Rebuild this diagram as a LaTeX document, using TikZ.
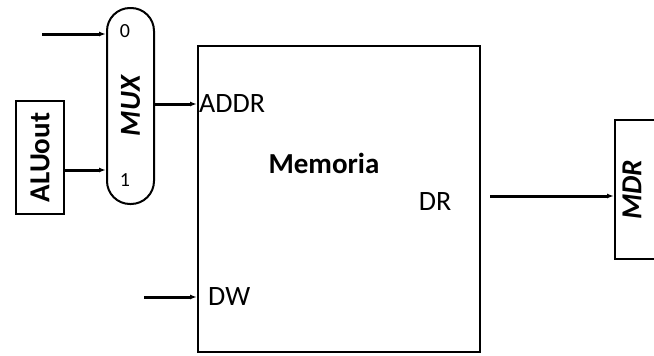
\documentclass[tikz,border=0pt]{standalone}
\usepackage{fontspec}
\setmainfont{Carlito}
\usetikzlibrary{arrows.meta,calc}
\tikzset{
  >={Latex[length=7pt,width=5pt]},
  blk/.style={draw,line width=2pt,inner sep=0pt},
  lbl/.style={font=\fontsize{28}{30}\selectfont,inner sep=0pt},
  bl/.style={font=\fontsize{29}{31}\selectfont\bfseries,inner sep=0pt},
  wire/.style={line width=3pt,->},
}

\begin{document}
\begin{tikzpicture}[x=1pt,y=-1pt]
\useasboundingbox (0,0) rectangle (654,356);
\clip (0,0) rectangle (654,356);
% blocchi
\node[blk,minimum width=282pt,minimum height=306pt] (mem) at (339,199){};
\node[blk,rounded corners=23pt,minimum width=47pt,minimum height=196pt] (mux) at (130.5,106){};
\node[blk,minimum width=48pt,minimum height=113pt] (alu) at (40,157.5){};
\node[blk,minimum width=80pt,minimum height=139pt] (mdr) at (655,189.5){};
% testi
\node[bl,rotate=90] at (alu.center) {ALUout};
\node[bl,rotate=90,font=\fontsize{29}{31}\selectfont\bfseries\itshape] at (mux.center) {MUX};
\node[bl,rotate=90,font=\fontsize{29}{31}\selectfont\bfseries\itshape] at (632,190) {MDR};
\node[lbl,font=\fontsize{20}{22}\selectfont] (z) at (125,31) {0};
\node[lbl,font=\fontsize{20}{22}\selectfont] (o) at (125,180) {1};
\node[lbl,anchor=west] (addr) at (199,104) {ADDR};
\node[bl] (memo) at (324,163) {Memoria};
\node[lbl] (dr) at (435,202) {DR};
\node[lbl,anchor=west] (dw) at (208,297) {DW};
% collegamenti
\coordinate (i0) at (42,34);
\coordinate (iw) at (144,297);
\coordinate (od) at (490,196);
\draw[wire] (i0) -- (mux.west |- i0);
\draw[wire] (alu.east |- 0,170) -- (mux.west |- 0,170);
\draw[wire] (mux.east |- 0,104) -- (mem.west |- 0,104);
\draw[wire] (iw) -- (mem.west |- iw);
\draw[wire] (od) -- (mdr.west |- od);
\end{tikzpicture}
\end{document}
